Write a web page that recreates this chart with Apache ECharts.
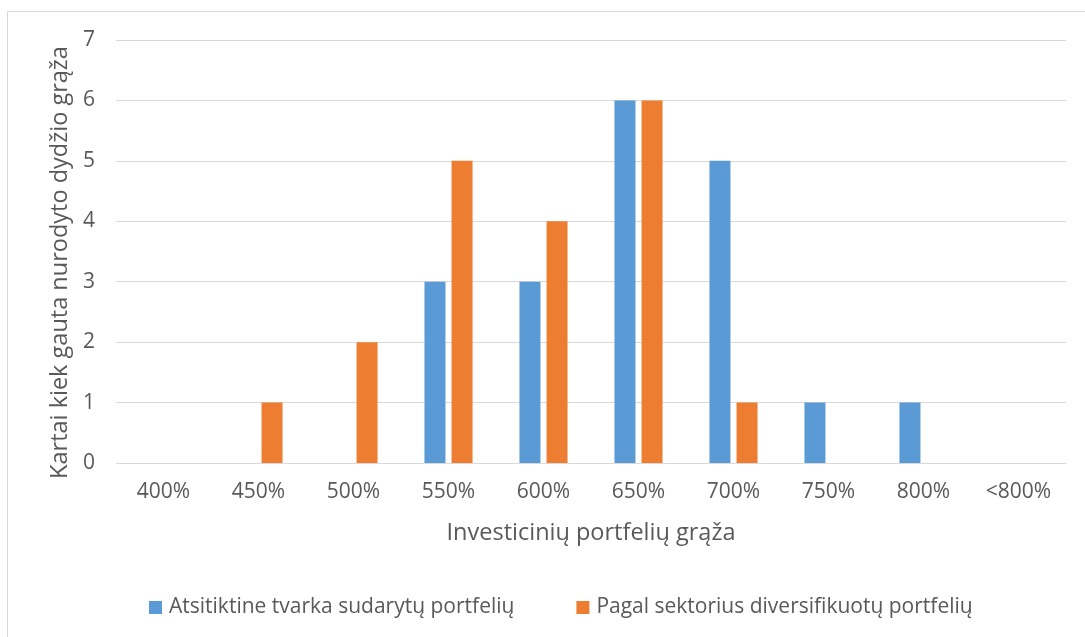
<!DOCTYPE html>
<html>
<head>
<meta charset="utf-8">
<script src="https://cdn.jsdelivr.net/npm/echarts@6/dist/echarts.min.js"></script>
<style>
  html, body { margin: 0; padding: 0; background: #fff; }
  #chart { width: 1085px; height: 637px; }
</style>
</head>
<body>
<div id="chart"></div>
<script>
// Return-size buckets and how many times each was reached
const categories = ['400%', '450%', '500%', '550%', '600%', '650%', '700%', '750%', '800%', '<800%'];
const randomPortfolios = [0, 0, 0, 3, 3, 6, 5, 1, 1, 0];
const sectorPortfolios = [0, 1, 2, 5, 4, 6, 1, 0, 0, 0];
const seriesNames = ['Atsitiktine tvarka sudarytų portfelių', 'Pagal sektorius diversifikuotų portfelių'];
const xAxisTitle = 'Investicinių portfelių grąža';
const yAxisTitle = 'Kartai kiek gauta nurodyto dydžio grąža';

const FONT = '"Open Sans", sans-serif';
const TEXT = '#595959';

const chart = echarts.init(document.getElementById('chart'), null, { renderer: 'canvas' });

const barStyle = (color) => ({
  type: 'bar',
  barWidth: 21,
  barGap: '29%',
  itemStyle: { color: color },
  emphasis: { disabled: true }
});

chart.setOption({
  animation: false,
  backgroundColor: '#fff',
  graphic: [{
    type: 'rect',
    shape: { x: 7.5, y: 11.5, width: 1100, height: 660 },
    style: { fill: 'none', stroke: '#d9d9d9', lineWidth: 1 },
    silent: true
  }],
  grid: { left: 116, right: 19, top: 40, bottom: 174, containLabel: false },
  legend: {
    bottom: 14,
    left: 144,
    itemWidth: 13,
    itemHeight: 13,
    itemGap: 62,
    icon: 'rect',
    textStyle: { fontFamily: FONT, fontSize: 21, color: TEXT, padding: [0, 0, 0, 2] },
    data: seriesNames
  },
  xAxis: {
    type: 'category',
    data: categories,
    axisLine: { show: true, lineStyle: { color: '#d9d9d9', width: 1 } },
    axisTick: { show: false },
    axisLabel: { fontFamily: FONT, fontSize: 21, color: TEXT, margin: 19 },
    name: xAxisTitle,
    nameLocation: 'middle',
    nameGap: 58,
    nameTextStyle: { fontFamily: FONT, fontSize: 23.5, color: TEXT }
  },
  yAxis: {
    type: 'value',
    min: 0,
    max: 7,
    interval: 1,
    axisLine: { show: false },
    axisTick: { show: false },
    splitLine: { lineStyle: { color: '#d9d9d9', width: 1 } },
    axisLabel: { fontFamily: FONT, fontSize: 21, color: TEXT, margin: 21 },
    name: yAxisTitle,
    nameLocation: 'middle',
    nameGap: 42,
    nameTextStyle: { fontFamily: FONT, fontSize: 23.5, color: TEXT, padding: [0, 22, 0, 0] }
  },
  series: [
    Object.assign(barStyle('#5b9bd5'), { name: seriesNames[0], data: randomPortfolios }),
    Object.assign(barStyle('#ed7d31'), { name: seriesNames[1], data: sectorPortfolios })
  ]
});
</script>
</body>
</html>
